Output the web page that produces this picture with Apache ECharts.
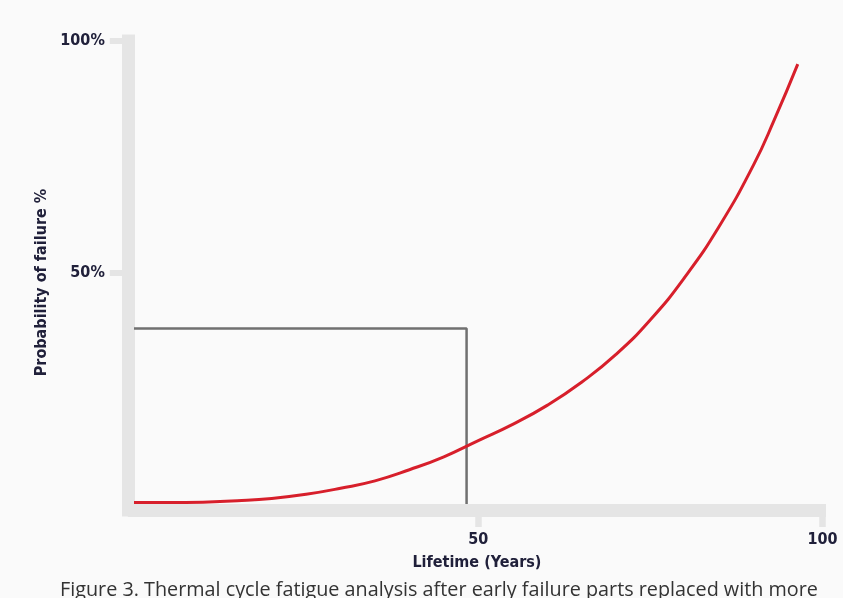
<!DOCTYPE html>
<html>
<head>
<meta charset="utf-8">
<script src="https://cdn.jsdelivr.net/npm/echarts@6/dist/echarts.min.js"></script>
<style>
html,body{margin:0;padding:0;background:#fafafa;}
#chart{width:843px;height:598px;}
</style>
</head>
<body>
<div id="chart"></div>
<script>
// Data
const years = [0, 5, 10, 15, 20, 25, 30, 35, 40, 45, 50, 55, 60, 65, 70, 75, 80, 85, 90, 93, 96.4];
const failureProb = [0.3, 0.3, 0.4, 0.7, 1.2, 2.1, 3.4, 5.0, 7.4, 10.2, 13.7, 17.2, 21.3, 26.3, 32.3, 39.8, 49.0, 60.0, 73.3, 83.0, 95.0];
const markerYear = 48.3;
const markerProb = 37.9;
const xTicks = [50, 100];
const yTicks = [50, 100];
const caption = 'Figure 3. Thermal cycle fatigue analysis after early failure parts replaced with more';

const curveData = years.map((y, i) => [y, failureProb[i]]);
const markerData = [[0, markerProb], [markerYear, markerProb], [markerYear, 0]];

const axisGray = '#e5e5e5';
const labelColor = '#20203a';
const labelFont = '"DejaVu Sans Condensed", "DejaVu Sans", sans-serif';

const chart = echarts.init(document.getElementById('chart'), null, {renderer: 'canvas'});
chart.setOption({
  backgroundColor: '#fafafa',
  animation: false,
  title: {
    text: caption,
    left: 60,
    top: 580,
    padding: 0,
    textStyle: {fontFamily: '"Open Sans", "Noto Sans", sans-serif', fontSize: 19.8, fontWeight: 'normal', color: '#333333'}
  },
  grid: {left: 127.8, right: 17, top: 41, bottom: 88, containLabel: false},
  xAxis: {
    type: 'value',
    min: -0.9,
    max: 100.5,
    name: 'Lifetime (Years)',
    nameLocation: 'middle',
    nameGap: 45,
    nameTextStyle: {fontFamily: labelFont, fontSize: 16, fontWeight: 'bold', color: labelColor},
    axisLine: {show: true, onZero: false, lineStyle: {color: axisGray, width: 13, cap: 'butt'}},
    axisTick: {show: true, customValues: xTicks, length: 17, lineStyle: {color: axisGray, width: 6.5}},
    axisLabel: {show: true, customValues: xTicks, margin: 22, fontFamily: labelFont, fontSize: 16, fontWeight: 'bold', color: labelColor},
    splitLine: {show: false}
  },
  yAxis: {
    type: 'value',
    min: -1.3,
    max: 100,
    name: 'Probability of failure %',
    nameLocation: 'middle',
    nameGap: 72,
    nameRotate: 90,
    nameTextStyle: {fontFamily: labelFont, fontSize: 16, fontWeight: 'bold', color: labelColor, padding: [0, 14, 0, 0]},
    axisLine: {show: true, onZero: false, lineStyle: {color: axisGray, width: 13, cap: 'square'}},
    axisTick: {show: true, customValues: yTicks, length: 18, lineStyle: {color: axisGray, width: 6}},
    axisLabel: {show: true, customValues: yTicks, margin: 23, fontFamily: labelFont, fontSize: 16, fontWeight: 'bold', color: labelColor,
      formatter: v => v + '%'},
    splitLine: {show: false}
  },
  series: [
    {
      type: 'line',
      data: markerData,
      showSymbol: false,
      lineStyle: {color: '#707070', width: 2.5},
      z: 3
    },
    {
      type: 'line',
      data: curveData,
      smooth: 0.5,
      showSymbol: false,
      lineStyle: {color: '#d71f2b', width: 3},
      z: 4
    }
  ]
});
</script>
</body>
</html>
